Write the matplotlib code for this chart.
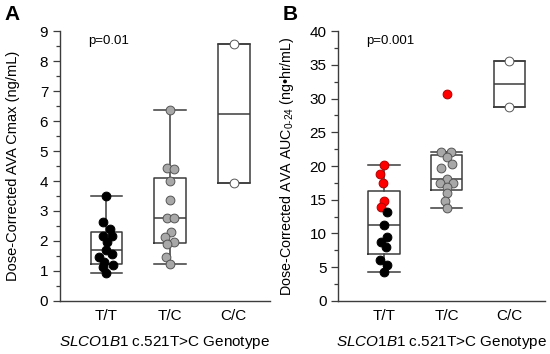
#!/usr/bin/env python3
"""
SLCO1B1 c.521T>C genotype vs dose-corrected AVA exposure (box + dot plot)
"""

import matplotlib

matplotlib.use("Agg")
import matplotlib.pyplot as plt
from matplotlib.ticker import MultipleLocator

plt.rcParams["font.family"] = ["Liberation Sans", "DejaVu Sans"]

GENOTYPES = ["T/T", "T/C", "C/C"]

# --- Panel A: Cmax (ng/mL) ---
cmax_tt = [3.49, 2.62, 2.39, 2.17, 2.17, 1.98, 1.70, 1.56, 1.46, 1.31, 1.20, 1.12, 0.94]
cmax_tt_jitter = [0, -0.058, 0.052, -0.052, 0.084, 0.011, 0, 0.09, -0.11, -0.043, 0.106, -0.058, 0]
cmax_tc = [6.37, 4.42, 4.39, 4.00, 3.37, 2.76, 2.76, 2.31, 2.14, 1.98, 1.90, 1.48, 1.23]
cmax_tc_jitter = [0, -0.047, 0.063, 0, 0, -0.053, 0.063, 0.01, -0.074, 0.063, -0.042, -0.063, 0]
cmax_cc = [8.57, 3.93]

# box stats: (whislo, q1, median, q3, whishi)
cmax_box = [
    (0.94, 1.23, 1.70, 2.31, 3.49),
    (1.23, 1.92, 2.76, 4.11, 6.37),
    (3.93, 3.93, 6.22, 8.57, 8.57),
]

# --- Panel B: AUC0-24 (ng*hr/mL) ---
auc_tt_red = [20.2, 18.84, 17.55, 14.84, 13.99]
auc_tt_red_jitter = [0, -0.058, -0.011, 0, -0.052]
auc_tt_black = [13.25, 11.28, 9.54, 8.80, 8.06, 6.08, 5.34, 4.30]
auc_tt_black_jitter = [0.052, 0, 0.043, -0.052, 0.036, -0.063, 0.052, 0]
auc_tc_gray = [22.15, 22.15, 21.41, 20.28, 19.78, 18.05, 17.46, 17.46, 16.87, 15.98, 14.88, 13.75]
auc_tc_gray_jitter = [-0.095, 0.074, 0, 0.079, -0.084, 0, -0.106, 0.106, 0, 0.011, -0.032, 0.011]
auc_tc_red = [30.7]
auc_cc = [35.62, 28.8]

auc_box = [
    (4.30, 7.02, 11.32, 16.37, 20.2),
    (13.75, 16.47, 18.05, 21.66, 22.15),
    (28.8, 28.8, 32.1, 35.62, 35.62),
]

LINE = "#3c3c3c"


def make_stats(rows):
    """bxp用の統計dictを作成"""
    stats = []
    for lo, q1, med, q3, hi in rows:
        stats.append(
            {"whislo": lo, "q1": q1, "med": med, "q3": q3, "whishi": hi, "fliers": []}
        )
    return stats


def draw_box(ax, rows):
    line_kw = {"color": LINE, "linewidth": 1.1}
    ax.bxp(
        make_stats(rows),
        positions=[1, 2, 3],
        widths=0.5,
        capwidths=0.5,
        showfliers=False,
        boxprops=line_kw,
        whiskerprops=line_kw,
        capprops=line_kw,
        medianprops=line_kw,
        zorder=2,
    )


def dots(ax, pos, values, jitter, face, edge):
    xs = [pos + j for j in jitter]
    ax.scatter(xs, values, s=40, c=face, edgecolors=edge, linewidths=0.7, zorder=3)


def style_axes(ax, ymax, major, minor, ylabel, ptext, label_x, label_size):
    ax.set_xlim(0.27, 3.57)
    ax.set_ylim(0, ymax)
    ax.set_xticks([1, 2, 3])
    ax.set_xticklabels(GENOTYPES, fontsize=11)
    ax.yaxis.set_major_locator(MultipleLocator(major))
    ax.yaxis.set_minor_locator(MultipleLocator(minor))
    ax.tick_params(axis="y", labelsize=11, color=LINE, length=5, width=0.9)
    ax.tick_params(axis="y", which="minor", length=3, width=0.9, color=LINE)
    ax.tick_params(axis="x", length=0, pad=6)
    for side in ["top", "right"]:
        ax.spines[side].set_visible(False)
    for side in ["left", "bottom"]:
        ax.spines[side].set_color(LINE)
        ax.spines[side].set_linewidth(1.0)
    ax.set_ylabel(ylabel, fontsize=label_size)
    ax.yaxis.set_label_coords(label_x, 0.5)
    ax.set_xlabel(
        r"$\mathit{SLCO1B1}$ c.521T>C Genotype", fontsize=11, labelpad=8
    )
    ax.text(0.135, 0.985, ptext, transform=ax.transAxes, fontsize=9.5, va="top")


def main():
    plt.rcParams["mathtext.fontset"] = "custom"
    plt.rcParams["mathtext.it"] = "Liberation Sans:italic"
    plt.rcParams["mathtext.rm"] = "Liberation Sans"

    fig = plt.figure(figsize=(5.5, 3.54), dpi=100)
    ax1 = fig.add_axes([0.109, 0.150, 0.382, 0.762])
    ax2 = fig.add_axes([0.615, 0.150, 0.376, 0.762])

    # パネルA
    draw_box(ax1, cmax_box)
    dots(ax1, 1, cmax_tt, cmax_tt_jitter, "black", "black")
    dots(ax1, 2, cmax_tc, cmax_tc_jitter, "#a8a8a8", "#555555")
    dots(ax1, 3, cmax_cc, [0, 0], "white", "#555555")
    style_axes(ax1, 9, 1, 0.5, "Dose-Corrected AVA Cmax (ng/mL)", "p=0.01", -0.19, 10.5)

    # パネルB
    draw_box(ax2, auc_box)
    dots(ax2, 1, auc_tt_red, auc_tt_red_jitter, "#ff0000", "#b00000")
    dots(ax2, 1, auc_tt_black, auc_tt_black_jitter, "black", "black")
    dots(ax2, 2, auc_tc_gray, auc_tc_gray_jitter, "#a8a8a8", "#555555")
    dots(ax2, 2, auc_tc_red, [0], "#ff0000", "#b00000")
    dots(ax2, 3, auc_cc, [0, 0], "white", "#555555")
    style_axes(
        ax2,
        40,
        5,
        2.5,
        r"Dose-Corrected AVA AUC$_{\mathregular{0\text{-}24}}$ (ng•hr/mL)",
        "p=0.001",
        -0.205,
        10.3,
    )

    fig.text(0.008, 0.985, "A", fontsize=15, fontweight="bold", va="top")
    fig.text(0.513, 0.985, "B", fontsize=15, fontweight="bold", va="top")

    fig.savefig("out.png", dpi=100)


if __name__ == "__main__":
    main()
